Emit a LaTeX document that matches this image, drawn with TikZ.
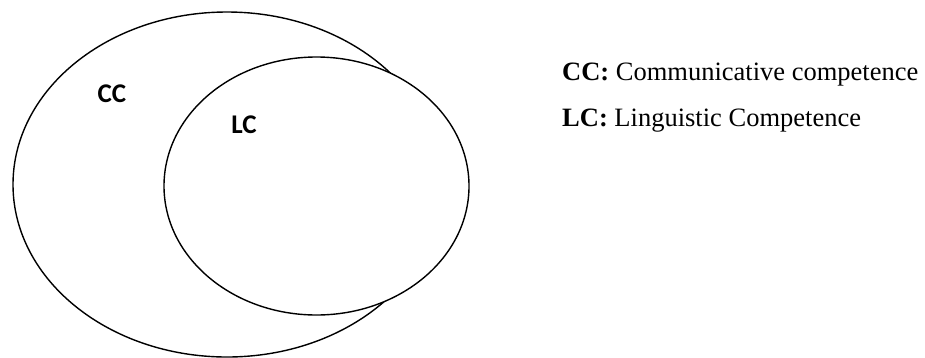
\documentclass[tikz,border=0pt]{standalone}
\usepackage{fontspec}
\setmainfont{Liberation Serif}
\newfontfamily\calfont{Carlito}
\begin{document}
\begin{tikzpicture}[x=1pt, y=-1pt, every node/.style={inner sep=0pt},
  setlabel/.style={font=\calfont\bfseries\fontsize{27}{32}\selectfont},
  legend/.style={anchor=base west, font=\fontsize{26.5}{31}\selectfont}]
  \useasboundingbox (0,0) rectangle (925,357);

  % CC ellipse (larger)
  \draw[line width=1.4pt] (227,184.5) ellipse [x radius=214, y radius=172.5];
  \node[setlabel] (cc) at (112,93.5) {CC};

  % LC ellipse (smaller, over CC)
  \draw[line width=1.4pt, fill=white] (316.5,186) ellipse [x radius=152.5, y radius=129];
  \node[setlabel] (lc) at (244,125) {LC};

  % Legend
  \node[legend] (cckey) at (562,80) {\textbf{CC:} Communicative competence};
  \node[legend] (lckey) at (562,126) {\textbf{LC:} Linguistic Competence};
\end{tikzpicture}
\end{document}
